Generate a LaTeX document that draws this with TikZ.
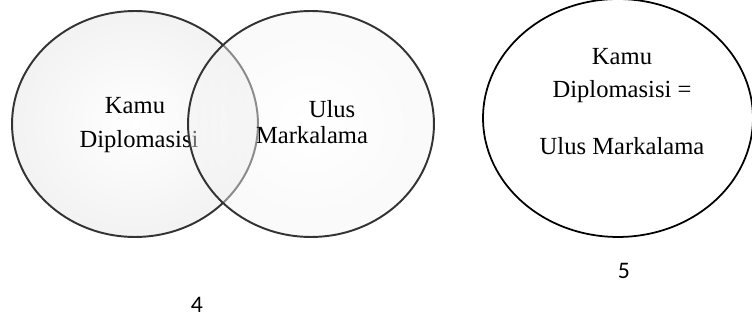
\documentclass[tikz,border=0pt]{standalone}
\usepackage{fontspec}
\setmainfont{Liberation Serif}
\newfontfamily\numfont{Carlito}
\usetikzlibrary{shapes.geometric}

\begin{document}
\begin{tikzpicture}[x=0.02cm, y=-0.02cm,
    venn/.style={draw=black!80, line width=1.1pt, ellipse, inner color=white, outer color=black!5, minimum width=4.92cm, minimum height=4.52cm},
    label/.style={anchor=base, font=\fontsize{14}{17}\selectfont},
    number/.style={anchor=base, font=\numfont\fontsize{13.5}{16}\selectfont}]
    \useasboundingbox (0,0) rectangle (752,324);
    \clip (0,0) rectangle (752,324);

    \node[venn] (kamu) at (135,124) {};
    \node[label] (kamuA) at (135,114) {Kamu};
    \node[label] (kamuB) at (139,148) {Diplomasisi};

    \node[venn, fill opacity=0.45] (ulus) at (311,124) {};
    \node[label] (ulusA) at (332,118) {Ulus};
    \node[label] (ulusB) at (312,144) {Markalama};

    \node[number] (four) at (197,313) {4};

    \node[draw, ellipse, line width=1pt, minimum width=5.4cm, minimum height=4.76cm] (equal) at (618,118) {};
    \node[label] (equalA) at (622,65) {Kamu};
    \node[label] (equalB) at (622,98) {Diplomasisi =};
    \node[label] (equalC) at (622,155) {Ulus Markalama};

    \node[number] (five) at (624,279) {5};
\end{tikzpicture}
\end{document}
